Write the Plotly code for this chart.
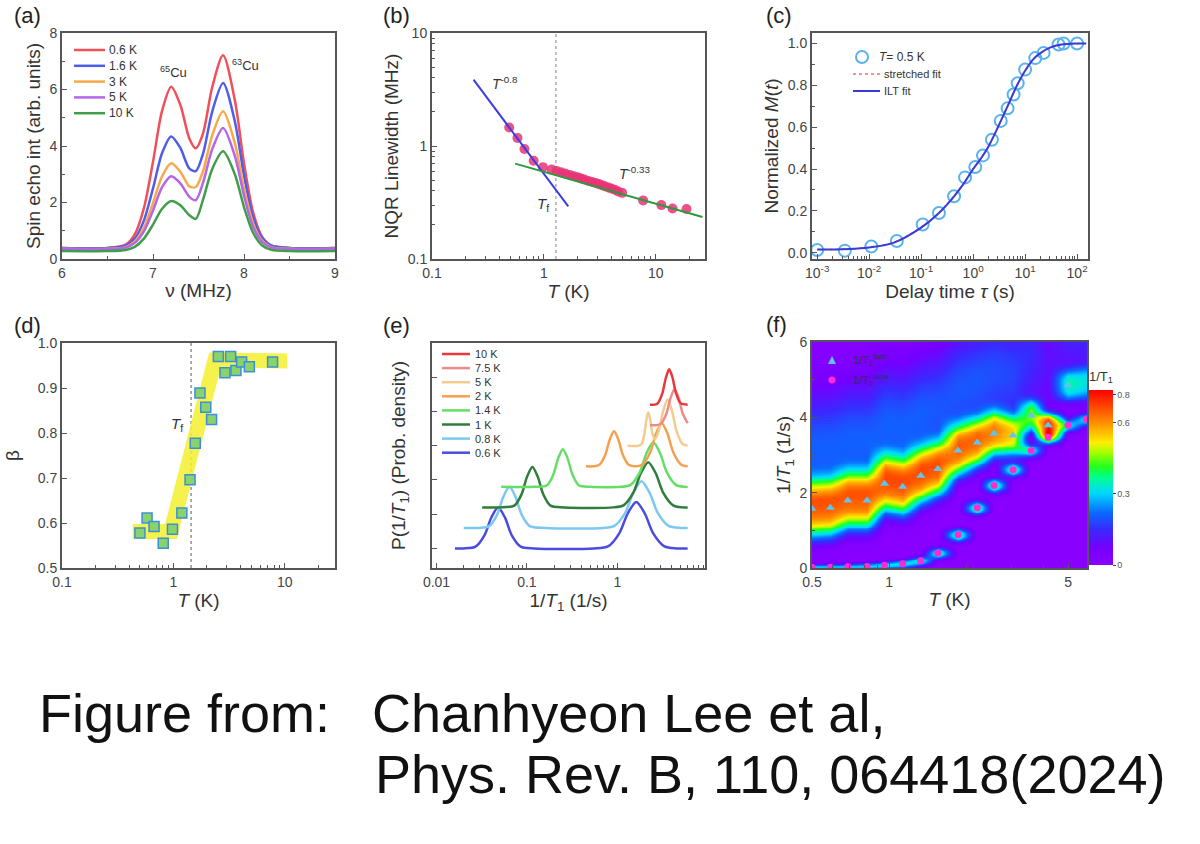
import numpy as np
import plotly.graph_objects as go

# full-window figure; the page body margin is removed after plotting (see write_html below)
FW, FH = 1200, 844
OFF = 0
def px(x): return (x - OFF) / FW
def py(y): return 1 - (y - OFF) / FH

FONT = "Liberation Sans, Arial, Helvetica, sans-serif"

# ---------------- (a) NQR spectra ----------------
a_nu = [6.0, 6.5, 6.7, 6.8, 6.9, 7.0, 7.1, 7.2, 7.3, 7.4, 7.47, 7.55, 7.65, 7.77, 7.9, 8.0, 8.1, 8.2, 8.3, 8.5, 9.0]
a_labels = ['0.6 K', '1.6 K', '3 K', '5 K', '10 K']
a_06 = [0.39, 0.39, 0.51, 0.87, 1.80, 3.44, 5.25, 6.10, 5.46, 4.26, 3.92, 4.45, 6.07, 7.21, 5.61, 3.39, 1.65, 0.78, 0.48, 0.39, 0.39]
a_16 = [0.39, 0.39, 0.47, 0.72, 1.36, 2.50, 3.75, 4.34, 3.93, 3.20, 3.11, 3.73, 5.21, 6.23, 4.86, 2.96, 1.47, 0.73, 0.47, 0.39, 0.39]
a_3 = [0.36, 0.36, 0.42, 0.62, 1.11, 1.98, 2.93, 3.39, 3.09, 2.57, 2.55, 3.11, 4.37, 5.23, 4.09, 2.50, 1.26, 0.64, 0.42, 0.36, 0.36]
a_5 = [0.35, 0.35, 0.40, 0.57, 0.98, 1.72, 2.54, 2.93, 2.68, 2.20, 2.08, 2.70, 3.88, 4.64, 3.64, 2.24, 1.14, 0.60, 0.41, 0.35, 0.35]
a_10 = [0.28, 0.28, 0.32, 0.43, 0.72, 1.22, 1.78, 2.05, 1.90, 1.55, 1.42, 2.10, 3.18, 3.81, 2.99, 1.84, 0.93, 0.48, 0.33, 0.28, 0.28]
a_colors = ['#f0505a', '#4f5ee8', '#f6a94a', '#b565e8', '#3e9e4a']

# ---------------- (b) linewidth ----------------
b_T = [0.49, 0.58, 0.67, 0.81, 0.98, 1.17, 1.3, 1.42, 1.55, 1.7, 1.85, 2.0, 2.15, 2.3, 2.5, 2.7, 2.9,
       3.1, 3.3, 3.5, 3.75, 4.0, 4.3, 4.6, 5.0, 7.7, 11.2, 14.1, 18.8]
b_W = [1.46, 1.18, 0.94, 0.74, 0.65, 0.62, 0.60, 0.585, 0.57, 0.555, 0.54, 0.53, 0.515, 0.505, 0.49, 0.48, 0.47,
       0.46, 0.45, 0.44, 0.43, 0.42, 0.41, 0.395, 0.385, 0.33, 0.30, 0.28, 0.277]
b_fit1_T = [0.235, 1.65]
b_fit1_W = [3.86, 0.292]
b_fit2_T = [0.553, 26.1]
b_fit2_W = [0.698, 0.235]
b_Tf = 1.28

# ---------------- (c) recovery ----------------
c_tau = [0.001, 0.0034, 0.011, 0.034, 0.107, 0.22, 0.43, 0.70, 1.1, 1.55, 2.3, 3.4, 4.6, 6.0, 7.2, 10.0,
         15.7, 22.7, 44, 55, 100]
c_M = [0.013, 0.010, 0.03, 0.056, 0.135, 0.19, 0.27, 0.36, 0.41, 0.465, 0.54, 0.63, 0.69, 0.756, 0.81, 0.875,
       0.93, 0.955, 0.995, 1.0, 1.0]
c_fit_tau = [0.001, 0.003, 0.01, 0.03, 0.1, 0.2, 0.4, 0.7, 1.0, 1.5, 2.0, 3.0, 5.0, 7.0, 10, 15, 20, 30, 50, 100, 150]
c_ilt = [0.015, 0.016, 0.025, 0.048, 0.12, 0.18, 0.26, 0.34, 0.40, 0.46, 0.51, 0.60, 0.72, 0.80, 0.87, 0.93,
         0.955, 0.98, 0.995, 1.0, 1.0]
c_str = [0.015, 0.016, 0.026, 0.050, 0.122, 0.182, 0.262, 0.342, 0.40, 0.46, 0.51, 0.60, 0.72, 0.80, 0.87, 0.928,
         0.954, 0.979, 0.994, 0.999, 1.0]

# ---------------- (d) beta ----------------
d_T = [0.50, 0.58, 0.67, 0.81, 0.98, 1.19, 1.41, 1.57, 1.73, 1.95, 2.2, 2.53, 2.9, 3.26, 3.64, 4.09, 4.8, 7.76]
d_beta = [0.578, 0.611, 0.592, 0.555, 0.586, 0.622, 0.696, 0.777, 0.889, 0.857, 0.830, 0.970, 0.934, 0.970,
          0.939, 0.958, 0.947, 0.958]
d_band_T = [0.43, 0.95, 2.36, 10.5]
d_band_beta = [0.581, 0.581, 0.962, 0.960]
d_Tf = 1.44

# ---------------- (e) ILT distributions ----------------
e_labels = ['0.6 K', '0.8 K', '1 K', '1.4 K', '2 K', '5 K', '7.5 K', '10 K']
e_colors = ['#4b4be0', '#7cc8f0', '#2f7d3a', '#66dd66', '#f5a050', '#f3cc90', '#f08a8a', '#e8383c']
e06_x = [0.016, 0.02, 0.027, 0.034, 0.0404, 0.048, 0.0571, 0.0678, 0.0853, 0.12, 0.55, 0.789, 1.051, 1.306, 1.62,
         2.010, 2.495, 3.327, 4.5, 6.0]
e06_y = [0, 0, 0.053, 0.39, 0.906, 1.2, 0.906, 0.39, 0.053, 0, 0, 0.06, 0.442, 1.027, 1.36, 1.027, 0.442, 0.06, 0, 0]
e08_x = [0.02, 0.03, 0.0381, 0.0469, 0.0548, 0.064, 0.0748, 0.0874, 0.1075, 0.16, 0.7, 0.927, 1.223, 1.504, 1.85,
         2.276, 2.801, 3.691, 5.0, 6.0]
e08_y = [0.6, 0.6, 0.653, 0.99, 1.506, 1.8, 1.506, 0.99, 0.653, 0.6, 0.6, 0.66, 1.042, 1.627, 1.96, 1.627, 1.042,
         0.66, 0.6, 0.6]
e1_x = [0.032, 0.05, 0.0726, 0.0873, 0.1002, 0.115, 0.132, 0.1516, 0.1823, 0.26, 0.9, 1.168, 1.505, 1.819, 2.2,
        2.66, 3.216, 4.145, 5.2, 6.0]
e1_y = [1.2, 1.2, 1.252, 1.584, 2.091, 2.38, 2.091, 1.584, 1.252, 1.2, 1.2, 1.258, 1.629, 2.197, 2.52, 2.197,
        1.629, 1.258, 1.2, 1.2]
e14_x = [0.052, 0.12, 0.167, 0.196, 0.2215, 0.25, 0.282, 0.3185, 0.374, 0.5, 1.1, 1.405, 1.77, 2.103, 2.5, 2.973,
         3.533, 4.445, 5.5, 6.0]
e14_y = [1.8, 1.8, 1.848, 2.158, 2.631, 2.9, 2.631, 2.158, 1.848, 1.8, 1.8, 1.857, 2.223, 2.782, 3.1, 2.782, 2.223,
         1.857, 1.8, 1.8]
e2_x = [0.45, 0.55, 0.633, 0.735, 0.822, 0.92, 1.029, 1.152, 1.338, 1.6, 1.9, 2.313, 2.675, 3.1, 3.593, 4.157,
        5.056, 6.0]
e2_y = [2.4, 2.4, 2.445, 2.732, 3.17, 3.42, 3.17, 2.732, 2.445, 2.4, 2.455, 2.81, 3.351, 3.66, 3.351, 2.81, 2.455,
        2.4]
e5_x = [1.3, 1.7, 1.85, 1.984, 2.09, 2.2, 2.317, 2.44, 2.616, 2.876, 3.218, 3.6, 4.028, 4.507, 5.234, 6.0]
e5_y = [3.0, 3.0, 3.043, 3.315, 3.732, 3.976, 3.75, 3.361, 3.182, 3.439, 4.019, 4.35, 4.019, 3.439, 3.059, 3.0]
e75_x = [2.3, 2.7, 3.044, 3.496, 3.879, 4.3, 4.769, 5.289, 6.0]
e75_y = [3.6, 3.6, 3.646, 3.941, 4.393, 4.65, 4.393, 3.941, 3.658]
e10_x = [2.3, 2.6, 2.813, 3.154, 3.439, 3.75, 4.088, 4.459, 5.003, 6.0]
e10_y = [4.2, 4.2, 4.245, 4.535, 4.978, 5.23, 4.978, 4.535, 4.245, 4.2]

# ---------------- (f) map of 1/T1 distribution ----------------
f_T = [0.5, 0.59, 0.69, 0.82, 0.96, 1.13, 1.33, 1.55, 1.86, 2.21, 2.57, 3.05, 3.59, 4.18, 5.0, 5.9]
f_fast = [1.57, 1.6, 1.79, 1.79, 2.24, 2.16, 2.45, 2.63, 3.12, 3.33, 3.57, 3.52, 4.05, 3.79, 4.85, 4.9]
f_fast_amp = [0.57, 0.57, 0.57, 0.57, 0.58, 0.58, 0.58, 0.58, 0.57, 0.56, 0.54, 0.47, 0.40, 0.68, 0.30, 0.26]
f_fast_w = [0.76, 0.76, 0.76, 0.76, 0.76, 0.76, 0.74, 0.72, 0.68, 0.64, 0.6, 0.54, 0.42, 0.32, 0.42, 0.45]
f_tail_amp = [0.21, 0.21, 0.21, 0.21, 0.21, 0.21, 0.21, 0.2, 0.2, 0.2, 0.19, 0.18, 0.15, 0.10, 0.14, 0.15]
f_slow = [0.02, 0.02, 0.03, 0.04, 0.07, 0.11, 0.19, 0.40, 0.88, 1.60, 2.19, 2.61, 3.12, 3.47, 3.79, 3.95]
f_slow_amp = [0.30, 0.30, 0.30, 0.30, 0.32, 0.34, 0.36, 0.40, 0.42, 0.42, 0.42, 0.40, 0.36, 0.40, 0.32, 0.32]
f_slow_w = [0.06, 0.06, 0.06, 0.07, 0.07, 0.08, 0.09, 0.10, 0.12, 0.13, 0.13, 0.12, 0.12, 0.12, 0.12, 0.12]
f_n_tri = 15

# density table for the heatmap, built from the per-temperature peak readings above
f_rate = [i * 0.05 for i in range(121)]
f_z = []
for r in f_rate:
    row = []
    for j in range(len(f_T)):
        v = f_fast_amp[j] * np.exp(-(abs(r - f_fast[j]) / f_fast_w[j]) ** 3)
        v += f_tail_amp[j] * np.exp(-0.5 * ((r - f_fast[j] - 1.6) / 1.15) ** 2)
        v += f_slow_amp[j] * np.exp(-0.5 * ((r - f_slow[j]) / f_slow_w[j]) ** 2)
        row.append(float(v))
    f_z.append(row)

fig = go.Figure()

# (a)
for name, ys, col in zip(a_labels, [a_06, a_16, a_3, a_5, a_10], a_colors):
    fig.add_trace(go.Scatter(x=a_nu, y=ys, mode='lines', name=name, showlegend=False,
                             line=dict(color=col, width=2.5, shape='spline', smoothing=0.8),
                             xaxis='x', yaxis='y'))

# (b)
fig.add_trace(go.Scatter(x=[b_Tf, b_Tf], y=[0.1, 10], mode='lines', showlegend=False,
                         line=dict(color='#999', width=1.2, dash='dot'), xaxis='x2', yaxis='y2'))
fig.add_trace(go.Scatter(x=b_T, y=b_W, mode='markers', showlegend=False,
                         marker=dict(color='rgba(232,50,118,0.85)', size=10), xaxis='x2', yaxis='y2'))
fig.add_trace(go.Scatter(x=b_fit1_T, y=b_fit1_W, mode='lines', showlegend=False,
                         line=dict(color='#3d3ddd', width=2), xaxis='x2', yaxis='y2'))
fig.add_trace(go.Scatter(x=b_fit2_T, y=b_fit2_W, mode='lines', showlegend=False,
                         line=dict(color='#2c9a3c', width=2), xaxis='x2', yaxis='y2'))

# (c)
c_colors = ['#5ab4ec', '#f07070', '#3a3ad8']
fig.add_trace(go.Scatter(x=c_tau, y=c_M, mode='markers', showlegend=False,
                         marker=dict(symbol='circle-open', size=12, color=c_colors[0], line=dict(width=2)),
                         xaxis='x3', yaxis='y3'))
fig.add_trace(go.Scatter(x=c_fit_tau, y=c_str, mode='lines', showlegend=False,
                         line=dict(color=c_colors[1], width=1.5, dash='dot', shape='spline'),
                         xaxis='x3', yaxis='y3'))
fig.add_trace(go.Scatter(x=c_fit_tau, y=c_ilt, mode='lines', showlegend=False,
                         line=dict(color=c_colors[2], width=2, shape='spline'), xaxis='x3', yaxis='y3'))

# (d)
fig.add_trace(go.Scatter(x=[d_Tf, d_Tf], y=[0.5, 1.0], mode='lines', showlegend=False,
                         line=dict(color='#777', width=1.2, dash='dot'), xaxis='x4', yaxis='y4'))
fig.add_trace(go.Scatter(x=d_band_T, y=d_band_beta, mode='lines', showlegend=False, opacity=0.85,
                         line=dict(color='#f4ef2e', width=15), xaxis='x4', yaxis='y4'))
fig.add_trace(go.Scatter(x=d_T, y=d_beta, mode='markers', showlegend=False,
                         marker=dict(symbol='square', size=10, color='#8ad26a',
                                     line=dict(color='#3c8fd8', width=1.5)), xaxis='x4', yaxis='y4'))

# (e)
e_x = [e06_x, e08_x, e1_x, e14_x, e2_x, e5_x, e75_x, e10_x]
e_y = [e06_y, e08_y, e1_y, e14_y, e2_y, e5_y, e75_y, e10_y]
for name, xs, ys, col in zip(e_labels, e_x, e_y, e_colors):
    fig.add_trace(go.Scatter(x=xs, y=ys, mode='lines', name=name, showlegend=False,
                             line=dict(color=col, width=2.5, shape='spline', smoothing=0.8),
                             xaxis='x5', yaxis='y5'))

# (f)
f_colorscale = [[0.0, '#8a00ff'], [0.1, '#7400ff'], [0.2, '#3a28ff'], [0.3, '#0a6aff'], [0.41, '#00d8ff'],
                [0.5, '#00ff90'], [0.56, '#20ff20'], [0.64, '#a0ff00'], [0.70, '#ffee00'], [0.8, '#ff9900'],
                [0.9, '#ff4a00'], [1.0, '#ff0000']]
fig.add_trace(go.Heatmap(x=f_T, y=f_rate, z=f_z, zmin=0, zmax=0.74, zsmooth='best', colorscale=f_colorscale,
                         showscale=True, xaxis='x6', yaxis='y6',
                         colorbar=dict(x=px(1089), xanchor='left', y=py(565), yanchor='bottom',
                                       len=197 / FH, lenmode='fraction', thickness=24, thicknessmode='pixels',
                                       outlinewidth=0, tickvals=[0, 0.3, 0.6, 0.72], xpad=0, ypad=0,
                                       ticktext=['0', '0.3', '0.6', '0.8'], ticks='outside', ticklen=3,
                                       tickfont=dict(family=FONT, size=9, color='#555'),
                                       title=dict(text='1/T<sub>1</sub>', side='top',
                                                  font=dict(family=FONT, size=13, color='#333')))))
f_tri_color = '#62c3ee'
f_dot_color = '#ff2ad4'
fig.add_trace(go.Scatter(x=f_T[:f_n_tri], y=f_fast[:f_n_tri], mode='markers', showlegend=False,
                         marker=dict(symbol='triangle-up', size=8, color=f_tri_color),
                         xaxis='x6', yaxis='y6'))
fig.add_trace(go.Scatter(x=f_T, y=f_slow, mode='markers', showlegend=False,
                         marker=dict(symbol='circle', size=7, color=f_dot_color),
                         xaxis='x6', yaxis='y6'))


def axis(domain, title, standoff=4, **kw):
    d = dict(domain=domain, showline=True, linewidth=2, linecolor='#555', mirror=True, automargin=False,
             ticks='inside', ticklen=5, tickwidth=1.2, tickcolor='#555',
             showgrid=False, zeroline=False,
             tickfont=dict(family=FONT, size=14, color='#444'),
             title=dict(text=title, font=dict(family=FONT, size=19, color='#333'), standoff=standoff))
    d.update(kw)
    return d


def minor(vals=None, dtick=None):
    m = dict(ticks='inside', ticklen=3, tickcolor='#555', showgrid=False)
    if vals is not None:
        m['tickvals'] = vals
    if dtick is not None:
        m['dtick'] = dtick
    return m


def log_minor(lo, hi):
    return [k * 10 ** e for e in range(lo, hi) for k in range(2, 10)]


col_x = [[px(62), px(335)], [px(432), px(705)], [px(812), px(1088)]]
row_top = [py(259), py(33)]
row_bot = [py(568), py(343)]

fig.update_layout(
    width=FW, height=FH, margin=dict(l=0, r=0, t=0, b=0, pad=0), autosize=False, showlegend=False,
    paper_bgcolor='white', plot_bgcolor='white', font=dict(family=FONT, color='#333'),
    xaxis=axis(col_x[0], 'ν (MHz)', anchor='y', range=[6, 9], dtick=1, minor=minor(dtick=0.5)),
    yaxis=axis(row_top, 'Spin echo int (arb. units)', anchor='x', range=[0, 8], dtick=2, minor=minor(dtick=1)),
    xaxis2=axis(col_x[1], '<i>T</i> (K)', anchor='y2', type='log', range=[-1, np.log10(27.5)],
                tickvals=[0.1, 1, 10], ticktext=['0.1', '1', '10'], minor=minor(log_minor(-1, 2))),
    yaxis2=axis(row_top, 'NQR Linewidth (MHz)', anchor='x2', type='log', range=[-1, 1],
                tickvals=[0.1, 1, 10], ticktext=['0.1', '1', '10'], minor=minor(log_minor(-1, 1))),
    xaxis3=axis(col_x[2], 'Delay time <i>τ</i> (s)', anchor='y3', type='log', range=[-3.1, 2.21],
                tickvals=[1e-3, 1e-2, 1e-1, 1, 10, 100],
                ticktext=['10<sup>-3</sup>', '10<sup>-2</sup>', '10<sup>-1</sup>', '10<sup>0</sup>',
                          '10<sup>1</sup>', '10<sup>2</sup>'], minor=minor(log_minor(-3, 2))),
    yaxis3=axis(row_top, 'Normalized <i>M</i>(<i>t</i>)', anchor='x3', range=[-0.03, 1.05], dtick=0.2,
                tickformat='.1f', minor=minor(dtick=0.1)),
    xaxis4=axis(col_x[0], '<i>T</i> (K)', anchor='y4', type='log', range=[-1, 1.45],
                tickvals=[0.1, 1, 10], ticktext=['0.1', '1', '10'], minor=minor(log_minor(-1, 2))),
    yaxis4=axis(row_bot, 'β', standoff=13, anchor='x4', range=[0.5, 1.0], dtick=0.1, tickformat='.1f'),
    xaxis5=axis(col_x[1], '1/<i>T</i><sub>1</sub> (1/s)', anchor='y5', type='log', range=[-2.05, 0.97],
                tickvals=[0.01, 0.1, 1, 10], ticktext=['0.01', '0.1', '1', '10'], minor=minor(log_minor(-2, 1))),
    yaxis5=axis(row_bot, 'P(1/<i>T</i><sub>1</sub>) (Prob. density)', standoff=19, anchor='x5',
                range=[-0.57, 6.0], tickvals=[0, 1, 2, 3, 4, 5], showticklabels=False),
    xaxis6=axis([px(812), px(1087)], '<i>T</i> (K)', anchor='y6', type='log', range=[np.log10(0.5), 0.773],
                tickvals=[0.5, 1, 5], ticktext=['0.5', '1', '5'], minor=minor([0.6, 0.7, 0.8, 0.9, 2, 3, 4])),
    yaxis6=axis([py(568), py(342)], '1/<i>T</i><sub>1</sub> (1/s)', anchor='x6', range=[0, 6], dtick=2,
                minor=minor(dtick=1)),
)

ann = []
shapes = []
def text(x, y, s, size=12, xanchor='center', color='#333'):
    ann.append(dict(x=px(x), y=py(y), xref='paper', yref='paper', text=s, showarrow=False,
                    xanchor=xanchor, yanchor='middle', font=dict(family=FONT, size=size, color=color)))

def seg(x0, x1, y, color, width=2.5, dash='solid'):
    shapes.append(dict(type='line', xref='paper', yref='paper', x0=px(x0), x1=px(x1), y0=py(y), y1=py(y),
                       line=dict(color=color, width=width, dash=dash)))

# legend (a)
for i, (lab, col) in enumerate(zip(a_labels, a_colors)):
    y = 50 + i * 15.8
    seg(74, 105, y, col)
    text(107, y, lab, 12, xanchor='left')

# legend (c)
shapes.append(dict(type='circle', xref='paper', yref='paper', x0=px(856), x1=px(868), y0=py(63), y1=py(51),
                   line=dict(color=c_colors[0], width=2)))
text(877, 57, '<i>T</i>= 0.5 K', 12, xanchor='left')
seg(853, 880, 74, c_colors[1], width=1.5, dash='dot')
text(882, 74, 'stretched fit', 11, xanchor='left')
seg(853, 880, 91, c_colors[2], width=2)
text(882, 91, 'ILT fit', 11, xanchor='left')

# legend (e)
for i, (lab, col) in enumerate(zip(e_labels[::-1], e_colors[::-1])):
    y = 354 + i * 14.1
    seg(442, 470, y, col)
    text(473, y, lab, 11, xanchor='left')

# legend (f)
shapes.append(dict(type='path', xref='paper', yref='paper',
                   path='M {:.5f},{:.5f} L {:.5f},{:.5f} L {:.5f},{:.5f} Z'.format(
                       px(832), py(356), px(828), py(364), px(836), py(364)),
                   fillcolor=f_tri_color, line=dict(width=0)))
text(851, 360, '1/T<sub>1</sub><sup>fast</sup>', 11, xanchor='left')
shapes.append(dict(type='circle', xref='paper', yref='paper', x0=px(828.5), x1=px(835.5), y0=py(383.5),
                   y1=py(376.5), fillcolor=f_dot_color, line=dict(width=0)))
text(851, 380, '1/T<sub>1</sub><sup>slow</sup>', 11, xanchor='left')

for lab, x, y in [('(a)', 12, 15), ('(b)', 381, 15), ('(c)', 764, 15), ('(d)', 12, 326), ('(e)', 381, 326),
                  ('(f)', 764, 324)]:
    text(x, y, lab, size=22, xanchor='left', color='#222')
text(173, 72, '<sup>65</sup>Cu', 13)
text(245, 65, '<sup>63</sup>Cu', 13)
text(505, 83, '<i>T</i><sup>-0.8</sup>', 14)
text(634, 173, '<i>T</i><sup>-0.33</sup>', 14)
text(543, 205, '<i>T</i><sub>f</sub>', 15)
text(177, 424, '<i>T</i><sub>f</sub>', 15)
text(37, 713, 'Figure from:', 54, xanchor='left', color='#111')
text(370, 713, 'Chanhyeon Lee et al,', 54, xanchor='left', color='#111')
text(373, 774, 'Phys. Rev. B, 110, 064418(2024)', 54, xanchor='left', color='#111')
fig.update_layout(annotations=ann, shapes=shapes)

fig.write_html("out.html", config={'displayModeBar': False},
               post_script="document.body.style.margin='0';document.body.style.overflow='hidden';")
